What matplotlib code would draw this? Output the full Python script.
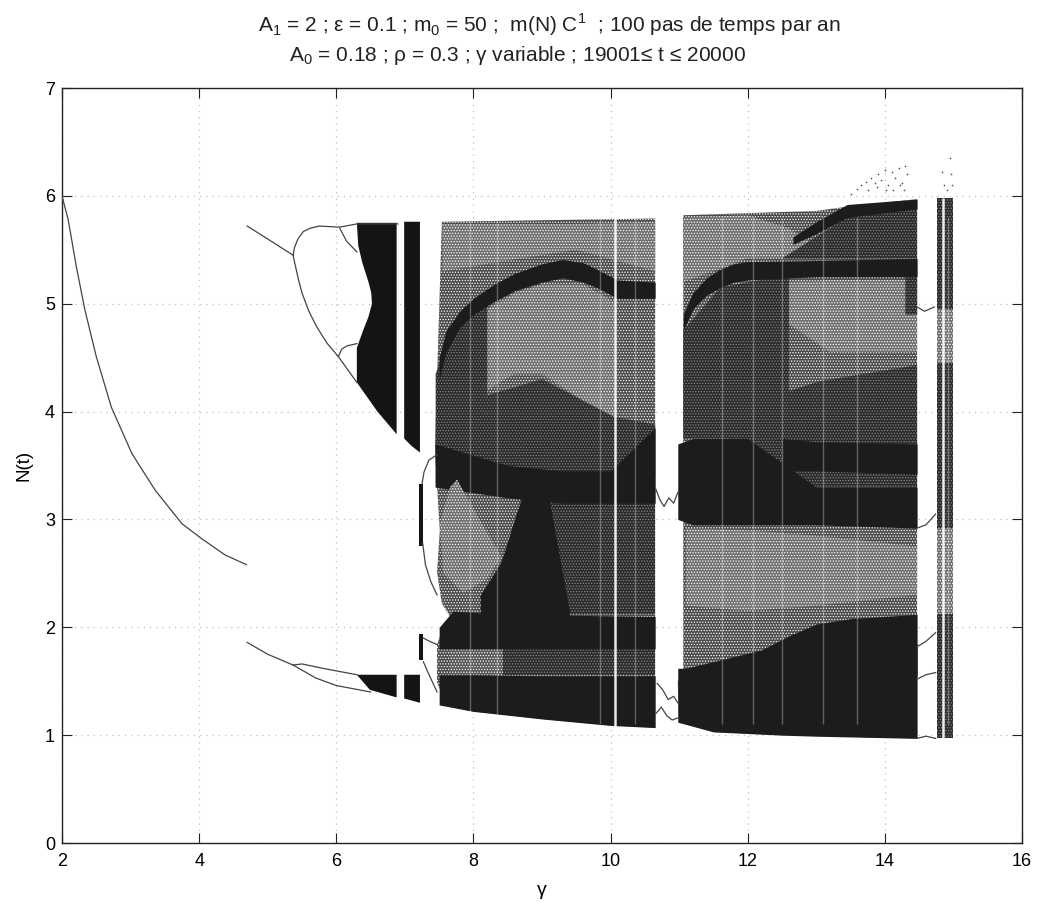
import matplotlib
matplotlib.use("Agg")
import matplotlib.pyplot as plt

plt.rcParams["font.family"] = ["Liberation Sans", "DejaVu Sans"]
plt.rcParams["mathtext.fontset"] = "custom"
plt.rcParams["mathtext.rm"] = "Liberation Sans"
plt.rcParams["hatch.linewidth"] = 0.6

x_ticks = [2, 4, 6, 8, 10, 12, 14, 16]
y_ticks = [0, 1, 2, 3, 4, 5, 6, 7]

# stable branches and thin curves
curve_g = [2.0, 2.09, 2.21, 2.335, 2.5, 2.72, 3.02, 3.36, 3.75, 4.04, 4.38, 4.69]
curve_n = [6.0, 5.78, 5.34, 4.94, 4.51, 4.04, 3.61, 3.27, 2.96, 2.82, 2.67, 2.58]
up_g = [4.7, 5.0, 5.37]
up_n = [5.72, 5.6, 5.45]
bub_top_g = [5.37, 5.39, 5.44, 5.52, 5.62, 5.75, 6.05, 6.3, 6.9]
bub_top_n = [5.45, 5.52, 5.6, 5.67, 5.7, 5.72, 5.71, 5.74, 5.74]
bub_low_g = [5.37, 5.4, 5.45, 5.5, 5.6, 5.72, 5.87, 6.03, 6.3]
bub_low_n = [5.45, 5.36, 5.22, 5.1, 4.93, 4.78, 4.63, 4.51, 4.27]
small_a_g = [6.05, 6.15, 6.3]
small_a_n = [5.7, 5.58, 5.48]
small_b_g = [6.03, 6.08, 6.16, 6.3]
small_b_n = [4.51, 4.58, 4.61, 4.63]
low_g = [4.7, 5.0, 5.37]
low_n = [1.86, 1.75, 1.65]
arm_a_g = [5.37, 5.5, 5.8, 6.3]
arm_a_n = [1.65, 1.66, 1.62, 1.56]
arm_b_g = [5.37, 5.7, 6.0, 6.5]
arm_b_n = [1.65, 1.53, 1.46, 1.4]
loop_a_g = [7.47, 7.35, 7.28, 7.25]
loop_a_n = [3.6, 3.55, 3.44, 3.33]
loop_b_g = [7.26, 7.3, 7.38, 7.47]
loop_b_n = [2.78, 2.58, 2.42, 2.3]
loop_c_g = [7.27, 7.36, 7.47]
loop_c_n = [1.68, 1.55, 1.4]
loop_d_g = [7.27, 7.36, 7.47]
loop_d_n = [1.9, 1.87, 1.84]
sq_a_g = [10.66, 10.72, 10.78, 10.85, 10.92, 10.98]
sq_a_n = [3.28, 3.18, 3.12, 3.2, 3.15, 3.25]
sq_b_g = [10.68, 10.76, 10.84, 10.92, 10.98]
sq_b_n = [1.48, 1.42, 1.33, 1.36, 1.3]
sq_c_g = [10.66, 10.74, 10.82, 10.9, 10.98]
sq_c_n = [1.2, 1.26, 1.18, 1.14, 1.16]
ln_a_g = [14.47, 14.58, 14.72]
ln_a_n = [4.97, 4.93, 4.97]
ln_b_g = [14.47, 14.6, 14.74]
ln_b_n = [2.92, 2.95, 3.05]
ln_c_g = [14.47, 14.6, 14.74]
ln_c_n = [1.82, 1.87, 1.95]
ln_d_g = [14.47, 14.6, 14.74]
ln_d_n = [1.52, 1.56, 1.58]
ln_e_g = [14.47, 14.6, 14.74]
ln_e_n = [0.97, 0.99, 0.97]
thin_curves = [
    (curve_g, curve_n), (up_g, up_n), (bub_top_g, bub_top_n), (bub_low_g, bub_low_n),
    (small_a_g, small_a_n), (small_b_g, small_b_n), (low_g, low_n), (arm_a_g, arm_a_n),
    (arm_b_g, arm_b_n), (loop_a_g, loop_a_n), (loop_b_g, loop_b_n), (loop_c_g, loop_c_n),
    (loop_d_g, loop_d_n), (sq_a_g, sq_a_n), (sq_b_g, sq_b_n), (sq_c_g, sq_c_n),
    (ln_a_g, ln_a_n), (ln_b_g, ln_b_n), (ln_c_g, ln_c_n), (ln_d_g, ln_d_n), (ln_e_g, ln_e_n),
]

# solid black chaotic blocks, left part
blk1_g = [6.3, 6.88, 6.88, 6.6, 6.3, 6.3, 6.39, 6.47, 6.52, 6.51, 6.47, 6.38, 6.32, 6.3]
blk1_n = [5.75, 5.75, 3.79, 4.0, 4.27, 4.59, 4.75, 4.88, 5.0, 5.1, 5.2, 5.38, 5.54, 5.75]
blk2_g = [6.99, 7.22, 7.22, 7.1, 6.99]
blk2_n = [5.76, 5.76, 3.62, 3.68, 3.75]
blk3_g = [6.3, 6.88, 6.88, 6.49]
blk3_n = [1.56, 1.56, 1.35, 1.42]
blk4_g = [6.99, 7.22, 7.22, 6.99]
blk4_n = [1.56, 1.56, 1.3, 1.34]
blk5_g = [7.2, 7.27, 7.27, 7.2]
blk5_n = [3.33, 3.33, 2.75, 2.75]
blk6_g = [7.2, 7.27, 7.27, 7.2]
blk6_n = [1.94, 1.94, 1.7, 1.7]
left_blocks = [(blk1_g, blk1_n), (blk2_g, blk2_n), (blk3_g, blk3_n), (blk4_g, blk4_n),
               (blk5_g, blk5_n), (blk6_g, blk6_n)]

# outlines of the two wide chaotic zones and the narrow strip
mid_g = [7.54, 10.65, 10.65, 10.0, 9.0, 8.0, 7.61, 7.47, 7.47, 7.56, 7.69, 7.54, 7.47, 7.51, 7.47, 7.44, 7.54]
mid_n = [5.76, 5.79, 1.07, 1.09, 1.15, 1.22, 1.27, 1.49, 1.84, 2.0, 2.07, 2.22, 2.51, 2.9, 3.31, 3.69, 5.76]
right_g = [11.06, 12.0, 13.0, 13.45, 14.47, 14.47, 12.5, 11.5, 11.0, 10.98, 11.06, 11.06]
right_n = [5.82, 5.84, 5.86, 5.9, 5.97, 0.97, 1.0, 1.03, 1.12, 1.5, 1.6, 5.82]
strip_g = [14.76, 15.0]
strip_low = [0.97, 0.97]
strip_high = [5.98, 5.98]

# light mottled regions: gamma, lower N, upper N
pale1_g = [8.2, 8.6, 9.0, 9.6, 10.05]
pale1_l = [4.2, 4.35, 4.35, 4.1, 3.95]
pale1_h = [4.95, 5.1, 5.18, 5.18, 5.02]
pale2_g = [11.1, 12.0, 13.0, 14.47]
pale2_l = [2.2, 2.15, 2.2, 2.3]
pale2_h = [2.92, 2.9, 2.85, 2.75]
pale3_g = [12.4, 13.2, 14.47]
pale3_l = [4.9, 4.55, 4.55]
pale3_h = [5.2, 5.22, 5.22]
pale4_g = [11.06, 12.0, 12.6, 13.3]
pale4_l = [5.2, 5.42, 5.42, 5.42]
pale4_h = [5.8, 5.82, 5.7, 5.42]
pale5_g = [7.55, 8.5, 9.5, 10.65]
pale5_l = [5.3, 5.4, 5.5, 5.3]
pale5_h = [5.74, 5.74, 5.74, 5.76]
pale6_g = [14.76, 15.0]
pale6_l = [4.45, 4.45]
pale6_h = [4.95, 4.95]
pale7_g = [14.76, 15.0]
pale7_l = [2.12, 2.12]
pale7_h = [2.92, 2.92]
pale_bands = [(pale1_g, pale1_l, pale1_h), (pale2_g, pale2_l, pale2_h), (pale3_g, pale3_l, pale3_h),
              (pale4_g, pale4_l, pale4_h), (pale5_g, pale5_l, pale5_h), (pale6_g, pale6_l, pale6_h),
              (pale7_g, pale7_l, pale7_h)]
blob_g = [7.76, 8.1, 8.41, 8.19, 7.85, 7.56, 7.51, 7.66]
blob_n = [3.37, 2.99, 2.65, 2.44, 2.32, 2.5, 2.96, 3.3]
low_patch_g = [7.66, 8.43, 8.43, 7.66]
low_patch_n = [1.79, 1.79, 1.56, 1.56]

# dense bands, few white dots
dense1_g = [7.45, 7.6, 7.8, 8.0, 8.2]
dense1_l = [3.5, 3.5, 3.5, 3.5, 3.5]
dense1_h = [4.35, 4.6, 4.8, 4.9, 4.97]
dense2_g = [8.2, 9.0, 10.05, 10.65]
dense2_l = [3.4, 3.4, 3.4, 3.4]
dense2_h = [4.15, 4.3, 3.95, 3.88]
dense3_g = [9.0, 10.65]
dense3_l = [2.12, 2.12]
dense3_h = [3.2, 3.2]
dense5_g = [8.43, 10.65]
dense5_l = [1.56, 1.56]
dense5_h = [1.8, 1.8]
dense6_g = [11.06, 11.6, 12.2, 12.6]
dense6_l = [3.75, 3.75, 3.75, 3.75]
dense6_h = [4.75, 5.15, 5.22, 5.25]
dense7_g = [11.74, 12.14, 12.5, 13.05, 14.47]
dense7_l = [3.3, 3.3, 3.3, 3.3, 3.3]
dense7_h = [3.77, 3.95, 4.17, 4.28, 4.43]
dense8_g = [12.5, 13.45, 14.47]
dense8_l = [5.42, 5.42, 5.42]
dense8_h = [5.42, 5.8, 5.88]
dense9_g = [14.3, 14.47]
dense9_l = [4.9, 4.9]
dense9_h = [5.25, 5.4]
dense10_g = [14.76, 15.0]
dense10_l = [2.92, 2.92]
dense10_h = [4.45, 4.45]
dense11_g = [14.76, 15.0]
dense11_l = [0.97, 0.97]
dense11_h = [2.12, 2.12]
dense12_g = [14.76, 15.0]
dense12_l = [4.95, 4.95]
dense12_h = [5.98, 5.98]
dense_bands = [(dense1_g, dense1_l, dense1_h), (dense2_g, dense2_l, dense2_h), (dense3_g, dense3_l, dense3_h),
               (dense5_g, dense5_l, dense5_h), (dense6_g, dense6_l, dense6_h), (dense7_g, dense7_l, dense7_h),
               (dense8_g, dense8_l, dense8_h), (dense9_g, dense9_l, dense9_h), (dense10_g, dense10_l, dense10_h),
               (dense11_g, dense11_l, dense11_h), (dense12_g, dense12_l, dense12_h)]

# solid dark bands
dark1_g = [7.5, 7.6, 7.8, 8.0, 8.3, 8.6, 9.0, 9.3, 9.6, 9.8, 10.1, 10.65]
dark1_l = [4.3, 4.55, 4.78, 4.9, 5.02, 5.12, 5.2, 5.24, 5.2, 5.15, 5.05, 5.05]
dark1_h = [4.5, 4.75, 4.93, 5.05, 5.18, 5.28, 5.37, 5.41, 5.38, 5.32, 5.22, 5.2]
dark2_g = [7.44, 8.5, 9.3, 10.0, 10.65]
dark2_l = [3.3, 3.2, 3.15, 3.15, 3.15]
dark2_h = [3.7, 3.5, 3.45, 3.45, 3.85]
dark3_g = [8.1, 8.4, 8.7, 9.1, 9.4]
dark3_l = [2.1, 2.1, 2.1, 2.1, 2.1]
dark3_h = [2.3, 2.6, 3.2, 3.2, 2.15]
dark4_g = [7.5, 7.7, 8.5, 10.65]
dark4_l = [1.8, 1.8, 1.8, 1.8]
dark4_h = [2.0, 2.15, 2.12, 2.1]
dark5_g = [7.5, 8.0, 9.0, 10.0, 10.65]
dark5_l = [1.28, 1.22, 1.15, 1.09, 1.07]
dark5_h = [1.56, 1.56, 1.55, 1.55, 1.55]
dark6_g = [11.06, 11.2, 11.4, 11.6, 11.8, 12.0, 13.0, 14.47]
dark6_l = [4.75, 4.95, 5.08, 5.15, 5.2, 5.22, 5.25, 5.25]
dark6_h = [4.9, 5.1, 5.24, 5.32, 5.37, 5.39, 5.4, 5.42]
dark7_g = [12.66, 13.0, 13.45, 14.47]
dark7_l = [5.55, 5.65, 5.8, 5.88]
dark7_h = [5.62, 5.76, 5.92, 5.97]
dark8_g = [10.98, 11.2, 12.0, 13.0, 14.47]
dark8_l = [3.0, 2.95, 2.95, 2.95, 2.92]
dark8_h = [3.7, 3.75, 3.75, 3.3, 3.3]
dark9_g = [12.5, 13.0, 14.47]
dark9_l = [3.45, 3.45, 3.42]
dark9_h = [3.75, 3.72, 3.7]
dark10_g = [10.98, 11.5, 12.5, 13.0, 14.47]
dark10_l = [1.12, 1.03, 1.0, 0.99, 0.97]
dark10_h = [1.62, 1.62, 1.62, 1.65, 1.85]
dark11_g = [11.1, 12.2, 12.6, 13.0, 13.5, 14.47]
dark11_l = [1.55, 1.55, 1.55, 1.55, 1.55, 1.55]
dark11_h = [1.62, 1.79, 1.92, 2.03, 2.08, 2.12]
dark_bands = [(dark1_g, dark1_l, dark1_h), (dark2_g, dark2_l, dark2_h), (dark3_g, dark3_l, dark3_h),
              (dark4_g, dark4_l, dark4_h), (dark5_g, dark5_l, dark5_h), (dark6_g, dark6_l, dark6_h),
              (dark7_g, dark7_l, dark7_h), (dark8_g, dark8_l, dark8_h), (dark9_g, dark9_l, dark9_h),
              (dark10_g, dark10_l, dark10_h), (dark11_g, dark11_l, dark11_h)]

# periodic windows seen as pale vertical lines
window_strong = [10.06, 14.85]
window_faint = [7.95, 8.35, 9.85, 10.35, 11.62, 12.07, 12.5, 13.1, 13.6, 14.92]

# scattered points above the attractor
scat_g = [13.5, 13.6, 13.65, 13.72, 13.8, 13.85, 13.9, 13.95, 14.0, 14.05, 14.1, 14.15, 14.2, 14.25,
          14.3, 14.32, 13.75, 13.88, 14.02, 14.12, 14.22, 14.28, 14.83, 14.86, 14.95, 14.97, 14.9, 14.98]
scat_n = [6.02, 6.06, 6.1, 6.13, 6.17, 6.12, 6.2, 6.15, 6.24, 6.1, 6.22, 6.17, 6.26, 6.12,
          6.28, 6.2, 6.05, 6.08, 6.05, 6.05, 6.1, 6.05, 6.22, 6.1, 6.35, 6.2, 6.05, 6.1]

fig = plt.figure(figsize=(10.39, 9.02), dpi=100)
ax = fig.add_axes([62 / 1039, 1 - 843 / 902, 960 / 1039, 755 / 902])

ax.grid(True, linestyle=(0, (1, 4)), color="#c0c0c0", linewidth=0.9)
ax.set_axisbelow(True)

# speckled background of the chaotic zones
ax.fill(mid_g, mid_n, facecolor="#4a4a4a", edgecolor="white", hatch="......", linewidth=0, zorder=2)
ax.fill(right_g, right_n, facecolor="#4a4a4a", edgecolor="white", hatch="......", linewidth=0, zorder=2)
ax.fill_between(strip_g, strip_low, strip_high, facecolor="#4a4a4a", edgecolor="white", hatch="......",
                linewidth=0, zorder=2)

for g, lo, hi in pale_bands:
    ax.fill_between(g, lo, hi, facecolor="#6e6e6e", edgecolor="white", hatch="......", linewidth=0, zorder=3)
for g, lo, hi in dense_bands:
    ax.fill_between(g, lo, hi, facecolor="#2a2a2a", edgecolor="#8a8a8a", hatch="......", linewidth=0, zorder=3.5)
ax.fill(low_patch_g, low_patch_n, facecolor="#555555", edgecolor="white", hatch="......", linewidth=0, zorder=3)
for g, lo, hi in dark_bands:
    ax.fill_between(g, lo, hi, color="#1c1c1c", linewidth=0, zorder=4)
ax.fill(blob_g, blob_n, facecolor="#6e6e6e", edgecolor="white", hatch="......", linewidth=0, zorder=4.5)
for g, n in left_blocks:
    ax.fill(g, n, color="#141414", linewidth=0, zorder=4)

for g, n in thin_curves:
    ax.plot(g, n, color="#444444", linewidth=0.9, zorder=5)

ax.vlines(window_strong, 0.97, 5.98, color="white", linewidth=1.8, alpha=0.9, zorder=6)
ax.vlines(window_faint, 1.1, 5.8, color="white", linewidth=1.0, alpha=0.3, zorder=6)
ax.scatter(scat_g, scat_n, s=1.5, color="#555555", linewidths=0, zorder=5)

ax.set_xlim(2, 16)
ax.set_ylim(0, 7)
ax.set_xticks(x_ticks)
ax.set_yticks(y_ticks)
ax.tick_params(direction="in", top=True, right=True, length=7, width=0.8, labelsize=13, pad=7, color="#222222")
ax.tick_params(axis="y", pad=5)
for s in ax.spines.values():
    s.set_linewidth(1.0)
    s.set_color("#222222")

ax.set_xlabel("γ", fontsize=14, labelpad=9)
ax.set_ylabel("N(t)", fontsize=13.5, labelpad=9)

fig.text(258 / 1039, 1 - 32 / 902,
         r"A$_1$ = 2 ; ε = 0.1 ; m$_0$ = 50 ;  m(N) C$^1$  ; 100 pas de temps par an",
         fontsize=15, color="#222222", ha="left", va="baseline")
fig.text(289 / 1039, 1 - 61 / 902,
         r"A$_0$ = 0.18 ; ρ = 0.3 ; γ variable ; 19001≤ t ≤ 20000",
         fontsize=15, color="#222222", ha="left", va="baseline")

fig.savefig("out.png", dpi=100)
